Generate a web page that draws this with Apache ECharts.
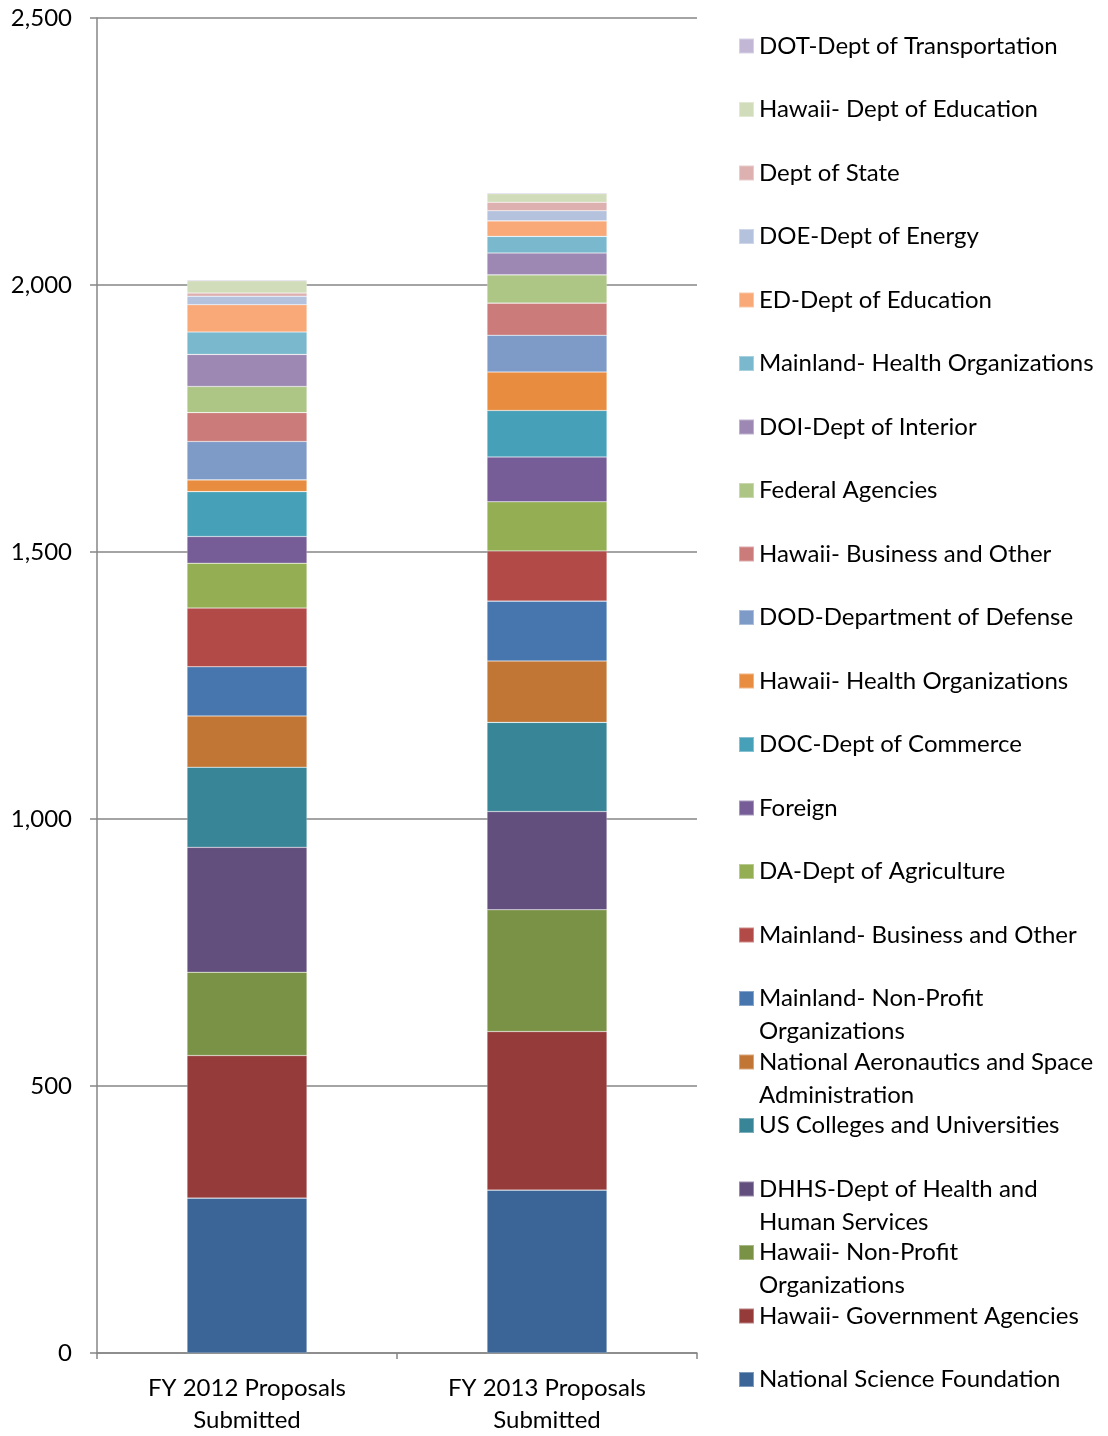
<!DOCTYPE html>
<html>
<head>
<meta charset="utf-8">
<script src="https://cdn.jsdelivr.net/npm/echarts@6/dist/echarts.min.js"></script>
<style>
  html, body { margin: 0; padding: 0; background: #fff; }
  #main { width: 1108px; height: 1436px; }
</style>
</head>
<body>
<div id="main"></div>
<script>
// 分类（x轴）
const categories = ['FY 2012 Proposals\nSubmitted', 'FY 2013 Proposals\nSubmitted'];

// 系列名，从下往上堆叠
const seriesNames = [
    'National Science Foundation',
    'Hawaii- Government Agencies',
    'Hawaii- Non-Profit Organizations',
    'DHHS-Dept of Health and Human Services',
    'US Colleges and Universities',
    'National Aeronautics and Space Administration',
    'Mainland- Non-Profit Organizations',
    'Mainland- Business and Other',
    'DA-Dept of Agriculture',
    'Foreign',
    'DOC-Dept of Commerce',
    'Hawaii- Health Organizations',
    'DOD-Department of Defense',
    'Hawaii- Business and Other',
    'Federal Agencies',
    'DOI-Dept of Interior',
    'Mainland- Health Organizations',
    'ED-Dept of Education',
    'DOE-Dept of Energy',
    'Dept of State',
    'Hawaii- Dept of Education',
    'DOT-Dept of Transportation'
];

// 每个系列在两年的数值（同上顺序）
const fy2012 = [290, 267, 156, 234, 150, 96, 92, 110, 84, 50, 84, 22, 72, 54, 49, 60, 42, 51, 16, 6, 23, 2];
const fy2013 = [305, 297, 228, 184, 167, 115, 112, 94, 92, 84, 87, 72, 69, 60, 53, 41, 31, 29, 19, 16, 16, 2];

// y轴刻度
const yMin = 0;
const yMax = 2500;
const yInterval = 500;

// 图例里需要换行的名字
const wrapLabels = {
    'Mainland- Non-Profit Organizations': 'Mainland- Non-Profit\nOrganizations',
    'National Aeronautics and Space Administration': 'National Aeronautics and Space\nAdministration',
    'DHHS-Dept of Health and Human Services': 'DHHS-Dept of Health and\nHuman Services',
    'Hawaii- Non-Profit Organizations': 'Hawaii- Non-Profit\nOrganizations'
};

// 颜色（和系列顺序一致）
const palette = [
    '#3b6597', '#953b3a', '#7a9245', '#634f7e', '#388597', '#c27635',
    '#4776ae', '#b24a47', '#93ae53', '#775d98', '#46a0b8', '#e88d40',
    '#7e9bc8', '#ca7b7a', '#adc585', '#9c88b2', '#79b8cd', '#f8a977',
    '#b4c2dd', '#deb1b1', '#d1ddba', '#c2b8d5'
];

const fontFamily = 'Lato, "Open Sans", sans-serif';
const axisGray = '#868686';

let myChart = echarts.init(document.getElementById('main'));

// 构造series
let datas = [];
for (let i = 0; i < seriesNames.length; i++) {
    datas.push({
        name: seriesNames[i],
        type: 'bar',
        stack: 'total',
        barWidth: '40%',
        itemStyle: {
            color: palette[i],
            borderColor: 'rgba(255,255,255,0.35)',
            borderWidth: 0.6
        },
        data: [fy2012[i], fy2013[i]]
    });
}

// 图例：从上到下是反过来的顺序，每项间距一样
// 两行的名字前面加一个空行，这样第一行和色块对齐
let legends = [];
let legendOrder = seriesNames.slice().reverse();
for (let i = 0; i < legendOrder.length; i++) {
    let name = legendOrder[i];
    let label = wrapLabels[name] ? ' \n' + wrapLabels[name] : name;
    let cy = 46 + i * 63.5;
    let boxH = wrapLabels[name] ? 99 : 33;
    legends.push({
        data: [name],
        orient: 'vertical',
        left: 738,
        top: cy - boxH / 2,
        padding: 0,
        itemWidth: 15,
        itemHeight: 15,
        icon: 'rect',
        selectedMode: false,
        formatter: function () { return label; },
        textStyle: {
            fontFamily: fontFamily,
            fontSize: 24,
            color: '#000',
            lineHeight: 33
        }
    });
}

let option = {
    animation: false,
    grid: {
        left: 97,
        right: 411,
        top: 18,
        bottom: 83
    },
    legend: legends,
    xAxis: {
        type: 'category',
        data: categories,
        axisLine: { lineStyle: { color: axisGray, width: 1.5 } },
        axisTick: { show: true, length: 6, lineStyle: { color: axisGray, width: 1.5 } },
        axisLabel: {
            margin: 19,
            fontFamily: fontFamily,
            fontSize: 24,
            lineHeight: 32,
            color: '#000'
        }
    },
    yAxis: {
        type: 'value',
        min: yMin,
        max: yMax,
        interval: yInterval,
        axisLine: { show: true, lineStyle: { color: axisGray, width: 1.5 } },
        axisTick: { show: true, length: 7, lineStyle: { color: axisGray, width: 1.5 } },
        splitLine: { lineStyle: { color: axisGray, width: 1.5 } },
        axisLabel: {
            margin: 25,
            fontFamily: fontFamily,
            fontSize: 24,
            color: '#000',
            formatter: function (v) { return v.toLocaleString('en-US'); }
        }
    },
    series: datas
};

myChart.setOption(option);
</script>
</body>
</html>
